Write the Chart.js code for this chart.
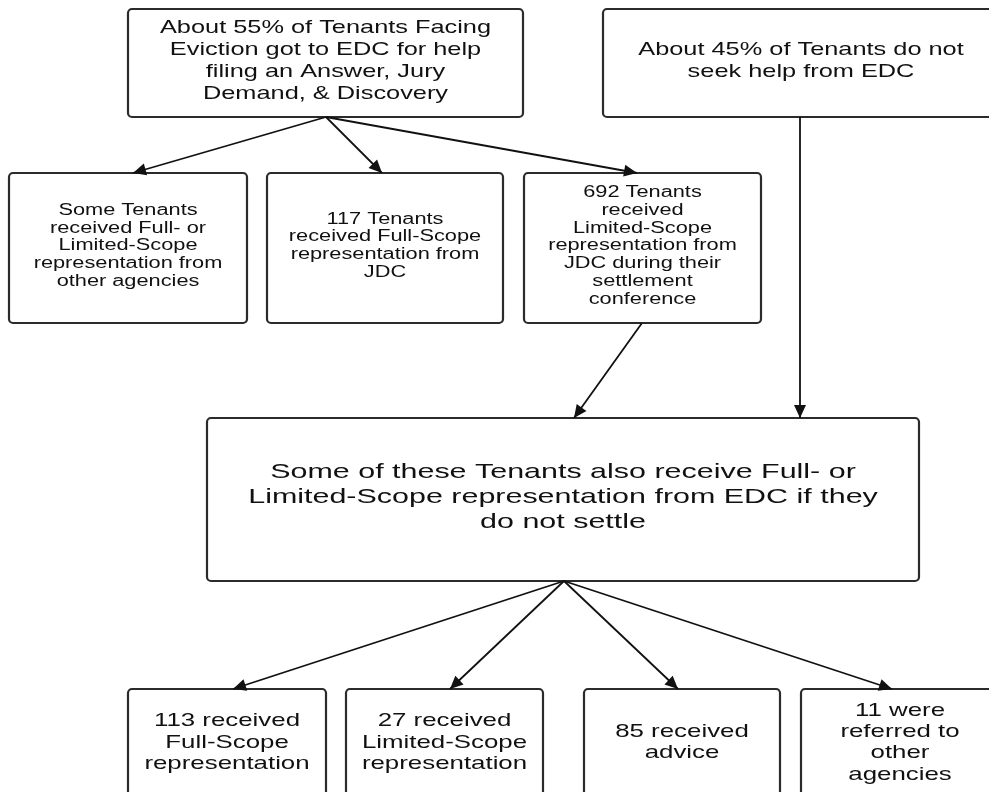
<!DOCTYPE html>
<html>
<head>
<meta charset="utf-8">
<script src="https://cdn.jsdelivr.net/npm/chart.js@4/dist/chart.umd.min.js"></script>
<style>
  html,body{margin:0;padding:0;background:#fff;}
  canvas{display:block;}
</style>
</head>
<body>
<canvas id="flow" width="989" height="792"></canvas>
<script>
// box texts (one entry per box, lines as drawn)
const nodeText = [
  ["About 55% of Tenants Facing","Eviction got to EDC for help","filing an Answer, Jury","Demand, & Discovery"],
  ["About 45% of Tenants do not","seek help from EDC"],
  ["Some Tenants","received Full- or","Limited-Scope","representation from","other agencies"],
  ["117 Tenants","received Full-Scope","representation from","JDC"],
  ["692 Tenants","received","Limited-Scope","representation from","JDC during their","settlement","conference"],
  ["Some of these Tenants also receive Full- or","Limited-Scope representation from EDC if they","do not settle"],
  ["113 received","Full-Scope","representation"],
  ["27 received","Limited-Scope","representation"],
  ["85 received","advice"],
  ["11 were","referred to","other","agencies"]
];
// which box points to which
const links = [[0,2],[0,3],[0,4],[1,5],[4,5],[5,6],[5,7],[5,8],[5,9]];

// layout (scale units = page pixels)
const boxes = [
  [128,9,523,117],[603,9,999,117],
  [9,173,247,323],[267,173,503,323],[524,173,761,323],
  [207,418,919,581],
  [128,689,326,800],[346,689,543,800],[584,689,780,800],[801,689,999,800]
];
const boxRow = [0,0,1,1,1,2,3,3,3,3];
const rowFont = [
  {size:18.5, stretch:1.37, lh:21.8},
  {size:16, stretch:1.36, lh:17.9},
  {size:21, stretch:1.45, lh:25},
  {size:18.6, stretch:1.39, lh:21.3}
];
const linkX = [[326,133],[326,382],[326,637],[800,800],[642,574],[564,233],[564,450],[564,678],[564,892]];

const lineColor = "#111";

const datasets = links.map((l,i)=>({
  data:[{x:linkX[i][0], y:boxes[l[0]][3]},{x:linkX[i][1], y:boxes[l[1]][1]}],
  showLine:true, borderColor:lineColor, borderWidth:1.8, pointRadius:0, fill:false
}));

function rrect(ctx,x,y,w,h,r){
  ctx.beginPath();
  ctx.moveTo(x+r,y);
  ctx.lineTo(x+w-r,y); ctx.arcTo(x+w,y,x+w,y+r,r);
  ctx.lineTo(x+w,y+h-r); ctx.arcTo(x+w,y+h,x+w-r,y+h,r);
  ctx.lineTo(x+r,y+h); ctx.arcTo(x,y+h,x,y+h-r,r);
  ctx.lineTo(x,y+r); ctx.arcTo(x,y,x+r,y,r);
  ctx.closePath();
}

const flowPlugin = {
  id:"flow",
  beforeDatasetsDraw(chart){
    const {ctx, scales:{x,y}} = chart;
    ctx.save();
    boxes.forEach(b=>{
      const x1=x.getPixelForValue(b[0]), y1=y.getPixelForValue(b[1]);
      const x2=x.getPixelForValue(b[2]), y2=y.getPixelForValue(b[3]);
      rrect(ctx,x1,y1,x2-x1,y2-y1,4);
      ctx.fillStyle="#fff"; ctx.fill();
      ctx.lineWidth=2.2; ctx.strokeStyle="#2b2b2b"; ctx.stroke();
    });
    ctx.restore();
  },
  afterDatasetsDraw(chart){
    const {ctx, scales:{x,y}} = chart;
    ctx.save();
    // arrow heads
    chart.data.datasets.forEach(ds=>{
      const a=ds.data[0], b=ds.data[1];
      const px1=x.getPixelForValue(a.x), py1=y.getPixelForValue(a.y);
      const px2=x.getPixelForValue(b.x), py2=y.getPixelForValue(b.y);
      const ang=Math.atan2(py2-py1,px2-px1), len=13, hw=6;
      ctx.beginPath();
      ctx.moveTo(px2,py2);
      ctx.lineTo(px2-len*Math.cos(ang)+hw*Math.sin(ang), py2-len*Math.sin(ang)-hw*Math.cos(ang));
      ctx.lineTo(px2-len*Math.cos(ang)-hw*Math.sin(ang), py2-len*Math.sin(ang)+hw*Math.cos(ang));
      ctx.closePath();
      ctx.fillStyle=lineColor; ctx.fill();
    });
    // texts
    ctx.fillStyle="#111";
    ctx.textAlign="center"; ctx.textBaseline="middle";
    nodeText.forEach((lines,i)=>{
      const b=boxes[i], f=rowFont[boxRow[i]];
      const cx=x.getPixelForValue((b[0]+b[2])/2);
      const cy=y.getPixelForValue((b[1]+b[3])/2)-2;
      const top=cy-(lines.length-1)*f.lh/2;
      ctx.font=f.size+'px "Liberation Sans", Arial, sans-serif';
      lines.forEach((t,k)=>{
        ctx.save();
        ctx.translate(cx, top+k*f.lh);
        ctx.scale(f.stretch,1);
        ctx.fillText(t,0,0);
        ctx.restore();
      });
    });
    ctx.restore();
  }
};

new Chart(document.getElementById("flow"),{
  type:"scatter",
  data:{datasets},
  options:{
    responsive:false, animation:false,
    layout:{padding:0},
    plugins:{legend:{display:false}, tooltip:{enabled:false}},
    scales:{
      x:{type:"linear", min:0, max:989, display:false},
      y:{type:"linear", min:0, max:792, reverse:true, display:false}
    }
  },
  plugins:[flowPlugin]
});
</script>
</body>
</html>
